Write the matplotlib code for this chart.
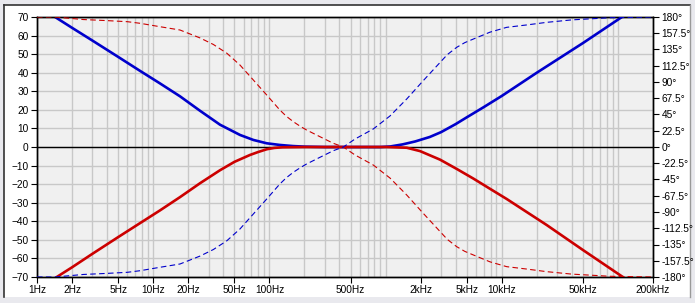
import numpy as np
import matplotlib
matplotlib.use("Agg")
import matplotlib.pyplot as plt
from matplotlib.patches import Rectangle
from matplotlib.ticker import FixedLocator, NullFormatter

# magnitude curves (dB)
blue_mag_f = [1.43, 2, 3, 5, 7.7, 11.4, 17, 25.3, 37.6, 55.8, 72.7, 94.8, 123, 160, 200,
              300, 600, 900, 1100, 1400, 1800, 2400, 3000, 4000, 5000, 7000, 10000,
              20000, 50000, 108000]
blue_mag = [70, 64.2, 57.3, 48.5, 41, 34.3, 27.3, 19.5, 12, 6.5, 3.8, 2.0, 1.1, 0.5, 0.2,
            0, 0, 0, 0.3, 1.4, 3, 5.4, 8, 12.3, 16, 21.5, 27.5,
            40, 56, 70]

red_mag_f = [1.48, 2, 3, 5, 7.7, 11.4, 17, 25.3, 37.6, 50, 68, 80, 95, 110, 130, 200,
             600, 1021, 1520, 1977, 2939, 4090, 5690, 7910, 11020, 16370, 24320,
             50000, 110000]
red_mag = [-70, -64.8, -57.5, -48.5, -41, -34.2, -27, -19.5, -12.5, -8, -4.3, -2.7, -1.2, -0.5, -0.15, 0,
           0, 0, -0.4, -2.2, -6.8, -11.8, -17, -22.5, -28, -35, -42,
           -55.5, -70]

# phase curves (degrees)
phase_f = [1, 1.43, 2.5, 4, 6, 7.7, 11.4, 17, 25.3, 32.9, 42.9, 55.8, 72.7, 94.8, 123,
           140, 160.7, 185, 209, 272, 355, 433, 545, 784, 1091, 1520, 2112, 2939, 3400,
           4090, 4800, 5690, 7910, 11020, 16370, 24320, 40000, 85300, 200000]
red_phase = [180, 180, 176.5, 175, 173.5, 171.3, 166.6, 162, 151, 142, 130, 113.5, 92.8, 72, 51.2,
             42.5, 35, 28.5, 23.5, 14.3, 5.1, 0, -11, -25, -43, -66.5, -92, -117, -128,
             -138, -144.5, -149.5, -159, -165.7, -169, -172.6, -176, -179, -180]
blue_phase = [-180, -180, -176.5, -175, -173.5, -171.3, -166.6, -162, -151, -142, -130, -113.5, -92.8, -72, -51.2,
              -42.5, -35, -28.5, -23.5, -14.3, -5.1, 0, 11, 25, 43, 66.5, 92, 117, 128,
              138, 144.5, 149.5, 159, 165.7, 169, 172.6, 176, 179, 180]

x_ticks = [1, 2, 5, 10, 20, 50, 100, 500, 2000, 5000, 10000, 50000, 200000]
x_labels = ["1Hz", "2Hz", "5Hz", "10Hz", "20Hz", "50Hz", "100Hz", "500Hz",
            "2kHz", "5kHz", "10kHz", "50kHz", "200kHz"]
db_ticks = list(range(-70, 71, 10))
deg_ticks = [-180 + 22.5 * i for i in range(17)]

RED = "#cc0000"
BLUE = "#0000cc"

plt.rcParams['font.family'] = ['Liberation Sans', 'DejaVu Sans']
plt.rcParams['font.size'] = 7.3

fig = plt.figure(figsize=(6.95, 3.03), dpi=100)
fig.patch.set_facecolor("#e9e9ee")
# window-like frame
fig.patches.append(Rectangle((4 / 695, 6 / 303), 686 / 695, 292 / 303,
                             transform=fig.transFigure, facecolor="white",
                             edgecolor="none", zorder=-10))
fig.add_artist(plt.Line2D([4 / 695, 690 / 695], [298 / 303, 298 / 303],
                          transform=fig.transFigure, color="#333333", lw=1.2, zorder=-5))
fig.add_artist(plt.Line2D([4 / 695, 4 / 695], [6 / 303, 298 / 303],
                          transform=fig.transFigure, color="#333333", lw=1.2, zorder=-5))
fig.add_artist(plt.Line2D([690 / 695, 690 / 695], [6 / 303, 298 / 303],
                          transform=fig.transFigure, color="#999999", lw=1.0, zorder=-5))

ax = fig.add_axes([37 / 695, 26 / 303, 616 / 695, 260 / 303])
ax.set_facecolor("#f0f0f0")
ax.set_xscale("log")
ax.set_xlim(1, 200000)
ax.set_ylim(-70, 70)

minor = [m * 10 ** d for d in range(0, 6) for m in range(1, 10) if m * 10 ** d <= 200000]
ax.xaxis.set_minor_locator(FixedLocator(minor))
ax.xaxis.set_minor_formatter(NullFormatter())
ax.set_xticks(x_ticks)
ax.set_xticklabels(x_labels)
ax.set_yticks(db_ticks)
ax.grid(True, which="both", axis="x", color="#c8c8c8", lw=1.0)
ax.grid(True, which="major", axis="y", color="#c8c8c8", lw=1.0)
ax.tick_params(which="minor", length=0)
ax.tick_params(which="major", length=4, width=0.8, pad=2, colors="black")
ax.axhline(0, color="black", lw=1.0, zorder=2)
ax.set_axisbelow(True)

ax.plot(blue_mag_f, blue_mag, color=BLUE, lw=1.9, zorder=4)
ax.plot(red_mag_f, red_mag, color=RED, lw=1.9, zorder=4)

ax2 = ax.twinx()
ax2.set_ylim(-180, 180)
ax2.set_yticks(deg_ticks)
ax2.set_yticklabels([("%g" % t) + "°" for t in deg_ticks])
ax2.tick_params(length=4, width=0.8, pad=2)
ax2.plot(phase_f, red_phase, color=RED, lw=0.8, dashes=(5, 3), zorder=3)
ax2.plot(phase_f, blue_phase, color=BLUE, lw=0.8, dashes=(5, 3), zorder=3)

for a in (ax, ax2):
    for s in a.spines.values():
        s.set_linewidth(1.0)
        s.set_color("black")

fig.savefig("out.png", dpi=100)
